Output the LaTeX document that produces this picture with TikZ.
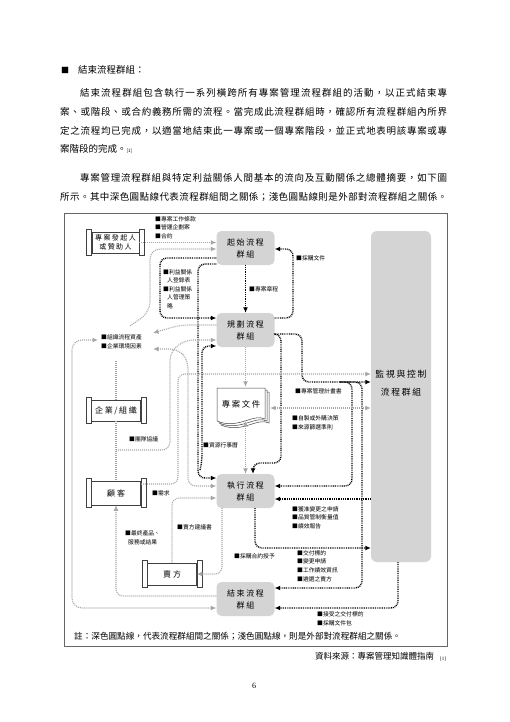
\documentclass[tikz,border=0pt]{standalone}
\usepackage{fontspec}
\setmainfont{Liberation Serif}
\newfontfamily\cjk{Noto Sans CJK TC}
\newfontfamily\cjkw[LetterSpace=20]{Noto Sans CJK TC}
\usetikzlibrary{arrows.meta,calc}
\newcommand\jgap{\hskip 0pt plus 1fil}
\ExplSyntaxOn
\NewDocumentCommand\jline{mm}{\hbox_to_wd:nn{#1}{\tl_map_inline:nn{#2}{##1\jgap}\unskip}}
\ExplSyntaxOff
\newcommand\scrollbox[4]{%
  \node[scrollmain,#2] (#1) at (#3) {#4};
  \draw[scrollbar] ($(#1.north west)+(-5,-2)$) rectangle ($(#1.south west)+(0,2)$);
  \draw[scrollbar] ($(#1.north east)+(0,-2)$) rectangle ($(#1.south east)+(5,2)$);
}
\begin{document}
\begin{tikzpicture}[x=1pt,y=-1pt,
  grp/.style={fill=black!17, rounded corners=5pt, minimum width=58pt, minimum height=34pt, inner sep=0pt, align=center, font=\cjkw\fontsize{8}{12}\selectfont},
  lab/.style={anchor=north west, inner sep=0pt, align=left, font=\cjk\fontsize{5.8}{8.6}\selectfont},
  body/.style={anchor=west, inner sep=0pt, font=\cjk\fontsize{9.5}{12}\selectfont},
  scrollmain/.style={draw=black!75, line width=0.6pt, fill=white, inner sep=0pt, align=center, font=\cjkw\fontsize{8}{10}\selectfont},
  scrollbar/.style={draw=black!75, line width=0.6pt, fill=white},
  dk/.style={draw=black, line width=1.4pt, dash pattern=on 0.9pt off 0.9pt, rounded corners=7pt, -{Latex[length=5.5pt,width=5pt]}},
  lt/.style={draw=black!35, line width=1.1pt, dash pattern=on 1pt off 1pt, rounded corners=7pt, -{Latex[length=5.5pt,width=5pt]}},
  ltb/.style={lt, {Latex[length=5.5pt,width=5pt]}-{Latex[length=5.5pt,width=5pt]}},
  ltn/.style={lt, -},
  docpage/.style={fill=white, draw=black!75, line width=0.5pt}
]
\fill[white] (0,0) rectangle (510,722);
\useasboundingbox (0,0) rectangle (510,722);

% ---------- body text ----------
\node[body, font=\cjk\fontsize{8}{10}\selectfont] (bul) at (61,70) {■};
\node[body] (t1) at (78,70) {結束流程群組：};
\node[body] (t2) at (80,93) {\jline{367pt}{結束流程群組包含執行一系列橫跨所有專案管理流程群組的活動，以正式結束專}};
\node[body] (t3) at (60,112) {\jline{387pt}{案、或階段、或合約義務所需的流程。當完成此流程群組時，確認所有流程群組內所界}};
\node[body] (t4) at (60,131) {\jline{387pt}{定之流程均已完成，以適當地結束此一專案或一個專案階段，並正式地表明該專案或專}};
\node[body] (t5) at (60,149) {案階段的完成。{\fontsize{4.5}{5}\selectfont [1]}};
\node[body] (t6) at (80,178) {\jline{367pt}{專案管理流程群組與特定利益關係人間基本的流向及互動關係之總體摘要，如下圖}};
\node[body] (t7) at (60,197) {\jline{387pt}{所示。其中深色圓點線代表流程群組間之關係；淺色圓點線則是外部對流程群組之關係。}};

% ---------- frame ----------
\draw[black!60, line width=0.8pt] (64,213) rectangle (447,646);

% ---------- nodes ----------
\scrollbox{sponsor}{minimum width=47pt,minimum height=21pt,font=\cjkw\fontsize{7}{9}\selectfont}{115.5,242.5}{專案發起人\\或贊助人}
\node[grp] (init) at (245.5,248) {起始流程\\群組};
\node[grp] (plan) at (245.5,330) {規劃流程\\群組};
\node[grp] (exec) at (245.5,491) {執行流程\\群組};
\node[grp] (close) at (245.5,599) {結束流程\\群組};
\node[fill=black!17, rounded corners=6pt, minimum width=60pt, minimum height=331pt, inner sep=0pt] (mc) at (401,396.5) {};
\node[font=\cjkw\fontsize{8.8}{18}\selectfont, align=center, inner sep=0pt] (mct) at (401,383) {監視與控制\\流程群組};

\foreach \d in {4,2,0} {
  \begin{scope}[shift={(\d,\d)}]
    \filldraw[docpage] (217,388) -- (265,388) -- (265,419) .. controls (253,413) and (238,430) .. (217,421) -- cycle;
  \end{scope}
}
\node[inner sep=0pt, minimum width=48pt, minimum height=34pt, font=\cjkw\fontsize{8.3}{10}\selectfont] (doc) at (241,404) {專案文件};

\scrollbox{org}{minimum width=49pt,minimum height=21pt}{116,410.5}{企業/組織}
\scrollbox{cust}{minimum width=49pt,minimum height=24pt}{116,493}{顧\hspace{2pt}客}
\scrollbox{seller}{minimum width=49pt,minimum height=22pt}{172,574}{賣\hspace{2pt}方}

% ---------- labels ----------
\node[lab] (l1) at (155,216) {■專案工作條款\\■營運企劃案\\■合約};
\node[lab] (l2) at (163,269) {■利益關係\\\hspace{4pt}人登錄表\\■利益關係\\\hspace{4pt}人管理策\\\hspace{4pt}略};
\node[lab] (l3) at (249,286) {■專案章程};
\node[lab] (l4) at (296,255) {■採購文件};
\node[lab, font=\cjk\fontsize{5.8}{9}\selectfont] (l5) at (101,334) {■組織流程資產\\■企業環境因素};
\node[lab] (l6) at (295,388) {■專案管理計畫書};
\node[lab, font=\cjk\fontsize{5.8}{9}\selectfont] (l7) at (292,415) {■自製或外購決策\\■來源篩選準則};
\node[lab] (l8) at (129,436) {■團隊協議};
\node[lab] (l9) at (203,442) {■資源行事曆};
\node[lab] (l10) at (152,490) {■需求};
\node[lab] (l11) at (177,524) {■賣方建議書};
\node[lab, font=\cjk\fontsize{5.8}{9}\selectfont] (l12) at (125,530) {■最終產品、\\\hspace{3pt}服務或結果};
\node[lab] (l13) at (234,553) {■採購合約授予};
\node[lab] (l14) at (292,506) {■獲准變更之申請\\■品質管制衡量值\\■績效報告};
\node[lab, font=\cjk\fontsize{5.8}{8.8}\selectfont] (l15) at (297,550) {■交付標的\\■變更申請\\■工作績效資訊\\■遴選之賣方};
\node[lab, font=\cjk\fontsize{5.8}{9}\selectfont] (l16) at (317,611) {■接受之交付標的\\■採購文件包};

% ---------- dark connectors ----------
\draw[dk] (init.south) -- (plan.north);
\draw[dk] (plan.east |- 0,318) -- (293,318) -- (293,249) -- (init.east |- 0,249);
\draw[dk] (init.west |- 0,258) -- (160,258) -- (160,318) -- (plan.west |- 0,318);
\draw[dk] (init.west |- 0,264) -- (198,264) -- (198,478) -- (exec.west |- 0,478);
\coordinate (d5s) at (200,470);
\draw[dk] (d5s) -- (202,462) -- (202,346) -- (plan.west |- 0,346);
\draw[dk] (plan.east |- 0,334) -- (281,334) -- (281,463) -- (253,463) -- (exec.north -| 253,0);
\draw[dk] (plan.east |- 0,334) -- (302,334) -- (302,382) -- (mc.west |- 0,382);
\coordinate (b1) at (340,382);
\draw[dk] (b1) -- (352,382) -- (352,486) -- (exec.east |- 0,486);
\draw[dk] (b1) -- (362,382) -- (362,588) -- (close.east |- 0,588);
\draw[dk] (mc.west |- 0,499) -- (exec.east |- 0,499);
\draw[dk] (exec.south -| 255,0) -- (255,548) -- (mc.west |- 0,548);
\draw[dk] (mc.south -| 398,0) -- (398,608) -- (close.east |- 0,608);

% ---------- light connectors ----------
\draw[lt] (sponsor.east) -- (init.west |- sponsor.east);
\coordinate (g2s) at (130,326);
\draw[lt, rounded corners=10pt] (g2s) -- (150,312) -- (150,249) -- (init.west |- 0,249);
\coordinate (labA) at (98,340);
\draw[ltb, rounded corners=10pt] (labA) -- (72,340) -- (72,608) -- (close.west |- 0,608);
\coordinate (labB) at (153,333);
\draw[lt, rounded corners=8pt] (plan.west |- 0,325) -- (180,325) -- (labB);
\coordinate (labC) at (153,349);
\draw[ltb, rounded corners=8pt] (labC) -- (178,349) -- (188,360) -- (188,486) -- (exec.west |- 0,486);
\draw[lt] (cust.east |- 0,484) -- (178,484) -- (178,374) -- (mc.west |- 0,374);
\draw[ltn] (org.north) -- (org.north |- 0,360);
\draw[ltn] (org.south) -- (cust.north);
\coordinate (tj) at (116,450);
\draw[lt, rounded corners=8pt] (tj) -- (170,450) -- (170,352) -- (185,340) -- (plan.west |- 0,340);
\draw[lt] (plan.south) -- (plan.south |- doc.north);
\draw[ltb] (exec.north |- doc.south) -- (exec.north);
\draw[ltb] ([xshift=5pt]doc.east |- 0,408) -- (mc.west |- 0,408);
\draw[lt] (seller.north) -- (seller.north |- 0,498) -- (exec.west |- 0,498);
\draw[lt] (exec.south -| 222,0) -- (222,574) -- (seller.east);
\draw[lt] (close.west |- 0,596) -- (116,596) -- (cust.south);

% ---------- caption & source ----------
\node[anchor=west, inner sep=0pt, font=\cjk\fontsize{8.6}{11}\selectfont] (note) at (74,636) {註：深色圓點線，代表流程群組間之關係；淺色圓點線，則是外部對流程群組之關係。};
\node[anchor=west, inner sep=0pt, font=\cjk\fontsize{8.5}{10}\selectfont] (src) at (315,656) {資料來源：專案管理知識體指南};
\node[anchor=west, inner sep=0pt, font=\fontsize{5}{6}\selectfont] (srcref) at (440,659) {[1]};
\node[inner sep=0pt, font=\fontsize{8}{10}\selectfont] (pg) at (254,686) {6};
\end{tikzpicture}
\end{document}
